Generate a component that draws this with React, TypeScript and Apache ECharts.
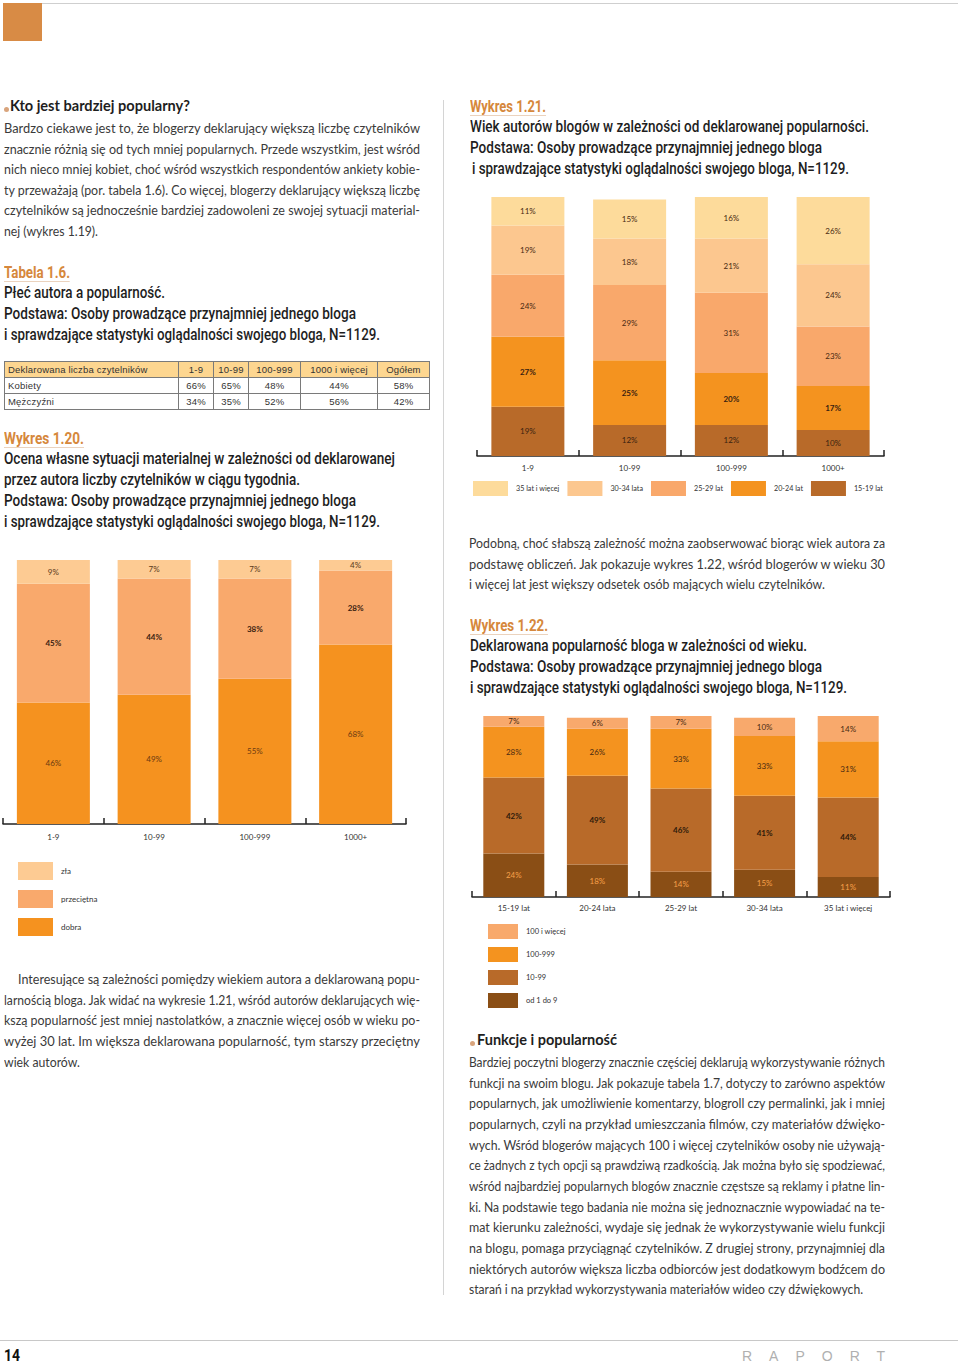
import React, { useEffect, useLayoutEffect, useRef } from "react";
import * as echarts from "echarts";

// ---------- DATA ----------
const tableHeader = ["Deklarowana liczba czytelników", "1-9", "10-99", "100-999", "1000 i więcej", "Ogółem"];
const tableKobiety = ["Kobiety", "66%", "65%", "48%", "44%", "58%"];
const tableMezczyzni = ["Mężczyźni", "34%", "35%", "52%", "56%", "42%"];

const readersCategories = ["1-9", "10-99", "100-999", "1000+"];
const materialDobra = [46, 49, 55, 68];
const materialPrzecietna = [45, 44, 38, 28];
const materialZla = [9, 7, 7, 4];

const age1519 = [19, 12, 12, 10];
const age2024 = [27, 25, 20, 17];
const age2529 = [24, 29, 31, 23];
const age3034 = [19, 18, 21, 24];
const age35plus = [11, 15, 16, 26];

const ageCategories = ["15-19 lat", "20-24 lata", "25-29 lat", "30-34 lata", "35 lat i więcej"];
const pop1to9 = [24, 18, 14, 15, 11];
const pop10to99 = [42, 49, 46, 41, 44];
const pop100to999 = [28, 26, 33, 33, 31];
const pop100plus = [7, 6, 7, 10, 14];

const para1 = [
  "Bardzo ciekawe jest to, że blogerzy deklarujący większą liczbę czytelników",
  "znacznie różnią się od tych mniej popularnych. Przede wszystkim, jest wśród",
  "nich nieco mniej kobiet, choć wśród wszystkich respondentów ankiety kobie-",
  "ty przeważają (por. tabela 1.6). Co więcej, blogerzy deklarujący większą liczbę",
  "czytelników są jednocześnie bardziej zadowoleni ze swojej sytuacji material-",
  "nej (wykres 1.19).",
];
const para2 = [
  "Interesujące są zależności pomiędzy wiekiem autora a deklarowaną popu-",
  "larnością bloga. Jak widać na wykresie 1.21, wśród autorów deklarujących wię-",
  "kszą popularność jest mniej nastolatków, a znacznie więcej osób w wieku po-",
  "wyżej 30 lat. Im większa deklarowana popularność, tym starszy przeciętny",
  "wiek autorów.",
];
const para3 = [
  "Podobną, choć słabszą zależność można zaobserwować biorąc wiek autora za",
  "podstawę obliczeń. Jak pokazuje wykres 1.22, wśród blogerów w wieku 30",
  "i więcej lat jest większy odsetek osób mających wielu czytelników.",
];
const para4 = [
  "Bardziej poczytni blogerzy znacznie częściej deklarują wykorzystywanie różnych",
  "funkcji na swoim blogu. Jak pokazuje tabela 1.7, dotyczy to zarówno aspektów",
  "popularnych, jak umożliwienie komentarzy, blogroll czy permalinki, jak i mniej",
  "popularnych, czyli na przykład umieszczania filmów, czy materiałów dźwięko-",
  "wych. Wśród blogerów mających 100 i więcej czytelników osoby nie używają-",
  "ce żadnych z tych opcji są prawdziwą rzadkością. Jak można było się spodziewać,",
  "wśród najbardziej popularnych blogów znacznie częstsze są reklamy i płatne lin-",
  "ki. Na podstawie tego badania nie można się jednoznacznie wypowiadać na te-",
  "mat kierunku zależności, wydaje się jednak że wykorzystywanie wielu funkcji",
  "na blogu, pomaga przyciągnąć czytelników. Z drugiej strony, przynajmniej dla",
  "niektórych autorów większa liczba odbiorców jest dodatkowym bodźcem do",
  "starań i na przykład wykorzystywania materiałów wideo czy dźwiękowych.",
];

// ---------- STYLES ----------
const BODY_FONT = "Lato, 'Liberation Sans', sans-serif";
const HEAD_FONT = "Roboto, 'Liberation Sans', sans-serif";
const CHART_FONT = "Lato, 'Open Sans', sans-serif";
const bodyStyle: React.CSSProperties = { fontFamily: BODY_FONT, fontSize: 13.5, color: "#3a3a3a" };
const headStyle: React.CSSProperties = {
  fontFamily: HEAD_FONT,
  fontSize: 16,
  fontWeight: 500,
  color: "#1e1e1e",
};
const orangeHead: React.CSSProperties = {
  fontFamily: HEAD_FONT,
  fontSize: 16,
  fontWeight: "bold",
  color: "#D6883C",
  borderBottom: "1px solid #EBD3BE",
  lineHeight: "17px",
};

// ---------- TEXT HELPERS ----------
function Line(props: {
  x: number;
  y: number;
  w?: number;
  fit?: number;
  text: string;
  justify?: boolean;
  style?: React.CSSProperties;
  lh?: number;
}) {
  const { x, y, w, fit, text, justify, style } = props;
  const lh = props.lh ?? 20;
  const ref = useRef<HTMLSpanElement>(null);
  useLayoutEffect(() => {
    const el = ref.current;
    if (!el) return;
    el.style.wordSpacing = "0px";
    el.style.transform = "none";
    const nat = el.getBoundingClientRect().width;
    if (fit) {
      el.style.transform = `scaleX(${fit / nat})`;
    } else if (w) {
      if (nat > w) {
        el.style.transform = `scaleX(${w / nat})`;
      } else if (justify) {
        const n = (text.trim().match(/ /g) || []).length;
        if (n) el.style.wordSpacing = `${(w - nat) / n}px`;
      }
    }
  }, [text, w, fit, justify]);
  return (
    <span
      ref={ref}
      style={{
        position: "absolute",
        left: x,
        top: y - lh / 2,
        lineHeight: `${lh}px`,
        whiteSpace: "pre",
        display: "inline-block",
        transformOrigin: "0 0",
        ...style,
      }}
    >
      {text}
    </span>
  );
}

function Para(props: {
  x: number;
  y: number;
  w: number;
  lines: string[];
  step: number;
  indent?: number;
  lastW: number;
  style?: React.CSSProperties;
}) {
  const { x, y, w, lines, step, indent = 0, style, lastW } = props;
  return (
    <>
      {lines.map((t, i) => {
        const last = i === lines.length - 1;
        const dx = i === 0 ? indent : 0;
        return (
          <Line
            key={i}
            x={x + dx}
            y={y + i * step}
            w={last ? undefined : w - dx}
            fit={last ? lastW : undefined}
            justify={!last}
            text={t}
            style={style || bodyStyle}
          />
        );
      })}
    </>
  );
}

function Bullet({ x, y }: { x: number; y: number }) {
  return (
    <div
      style={{ position: "absolute", left: x, top: y, width: 5, height: 5, borderRadius: 3, background: "#D9A47C" }}
    />
  );
}

// ---------- CHART ----------
type SeriesCfg = { name: string; data: number[]; color: string; labelColor: string; bold?: boolean };

function stackedOption(cfg: {
  categories: string[];
  series: SeriesCfg[];
  grid: any;
  legend: any;
  legendOrder: string[];
  legendFont: number;
  barWidth: number;
  labelMargin: number;
}) {
  return {
    animation: false,
    textStyle: { fontFamily: CHART_FONT },
    grid: { ...cfg.grid, containLabel: false },
    legend: {
      ...cfg.legend,
      padding: 0,
      selectedMode: false,
      icon: "rect",
      data: cfg.legendOrder,
      textStyle: { fontSize: cfg.legendFont, color: "#333", fontFamily: CHART_FONT, padding: [2, 0, 0, 3] },
    },
    xAxis: {
      type: "category",
      data: cfg.categories,
      axisLine: { lineStyle: { color: "#222", width: 1.5 } },
      axisTick: { show: true, inside: true, length: 6, lineStyle: { color: "#222", width: 1.5 } },
      axisLabel: { color: "#333", fontSize: 8, margin: cfg.labelMargin, fontFamily: CHART_FONT },
    },
    yAxis: { type: "value", min: 0, max: 100, show: false },
    series: cfg.series.map((s) => ({
      type: "bar",
      name: s.name,
      stack: "all",
      data: s.data,
      barWidth: cfg.barWidth,
      itemStyle: { color: s.color },
      label: {
        show: true,
        position: "inside",
        formatter: "{c}%",
        fontSize: 8,
        fontFamily: CHART_FONT,
        color: s.labelColor,
        fontWeight: s.bold ? "bold" : "normal",
      },
    })),
  };
}

function Chart({ style, option }: { style: React.CSSProperties; option: any }) {
  const ref = useRef<HTMLDivElement>(null);
  useEffect(() => {
    const chart = echarts.init(ref.current as HTMLDivElement, null, { renderer: "svg" });
    chart.setOption(option);
    return () => chart.dispose();
  }, []);
  return <div ref={ref} style={{ position: "absolute", ...style }} />;
}

const optMaterial = stackedOption({
  categories: readersCategories,
  series: [
    { name: "dobra", data: materialDobra, color: "#F5921F", labelColor: "#6b3a12" },
    { name: "przeciętna", data: materialPrzecietna, color: "#F9A96C", labelColor: "#3a2210", bold: true },
    { name: "zła", data: materialZla, color: "#FDCB93", labelColor: "#5a3a1a" },
  ],
  grid: { left: 3, top: 10, width: 403, height: 264 },
  legend: { orient: "vertical", left: 18, top: 312, itemWidth: 35, itemHeight: 18, itemGap: 10 },
  legendOrder: ["zła", "przeciętna", "dobra"],
  legendFont: 8,
  barWidth: 73,
  labelMargin: 9,
});

const optAge = stackedOption({
  categories: readersCategories,
  series: [
    { name: "15-19 lat", data: age1519, color: "#B86A29", labelColor: "#3a2210" },
    { name: "20-24 lat", data: age2024, color: "#F4931F", labelColor: "#3a2210", bold: true },
    { name: "25-29 lat", data: age2529, color: "#F9A86B", labelColor: "#4a2a12" },
    { name: "30-34 lata", data: age3034, color: "#FCC78F", labelColor: "#4a2a12" },
    { name: "35 lat i więcej", data: age35plus, color: "#FDDB9B", labelColor: "#4a2a12" },
  ],
  grid: { left: 17, top: 7, width: 407, height: 259 },
  legend: { orient: "horizontal", left: 13, top: 291, width: 440, itemWidth: 35, itemHeight: 15, itemGap: 8 },
  legendOrder: ["35 lat i więcej", "30-34 lata", "25-29 lat", "20-24 lat", "15-19 lat"],
  legendFont: 7.2,
  barWidth: 73,
  labelMargin: 8,
});

const optPop = stackedOption({
  categories: ageCategories,
  series: [
    { name: "od 1 do 9", data: pop1to9, color: "#8A4E15", labelColor: "#F7A04A" },
    { name: "10-99", data: pop10to99, color: "#B86A29", labelColor: "#2e1a0a", bold: true },
    { name: "100-999", data: pop100to999, color: "#F4931F", labelColor: "#4a2a12" },
    { name: "100 i więcej", data: pop100plus, color: "#F8A96C", labelColor: "#4a2a12" },
  ],
  grid: { left: 12, top: 11, width: 418, height: 181 },
  legend: { orient: "vertical", left: 28, top: 219, itemWidth: 30, itemHeight: 15, itemGap: 8 },
  legendOrder: ["100 i więcej", "100-999", "10-99", "od 1 do 9"],
  legendFont: 7.5,
  barWidth: 61,
  labelMargin: 7,
});

// ---------- TABLE ----------
const colWidths = [170, 34, 34, 51, 76, 51];
function Table() {
  const cell = (txt: string, i: number, header: boolean) => (
    <td
      key={i}
      style={{
        border: "1px solid #7a7a7a",
        width: colWidths[i],
        height: 15,
        padding: 0,
        paddingLeft: i === 0 ? 3 : 0,
        textAlign: i === 0 ? "left" : "center",
        background: header ? "#FDD690" : "#fff",
        whiteSpace: "nowrap",
      }}
    >
      {txt}
    </td>
  );
  return (
    <table
      style={{
        position: "absolute",
        left: 4,
        top: 361,
        width: 417,
        borderCollapse: "collapse",
        tableLayout: "fixed",
        fontFamily: "'Liberation Sans', Arial, sans-serif",
        fontSize: 9.5,
        letterSpacing: 0.2,
        color: "#333",
      }}
    >
      <tbody>
        <tr>{tableHeader.map((t, i) => cell(t, i, true))}</tr>
        <tr>{tableKobiety.map((t, i) => cell(t, i, false))}</tr>
        <tr>{tableMezczyzni.map((t, i) => cell(t, i, false))}</tr>
      </tbody>
    </table>
  );
}

// ---------- APP ----------
export default function App() {
  return (
    <div
      style={{
        position: "absolute",
        left: 0,
        top: 0,
        width: 960,
        height: 1365,
        overflow: "hidden",
        background: "#fff",
      }}
    >
      {/* top decoration */}
      <div style={{ position: "absolute", left: 3, top: 3, width: 39, height: 38, background: "#D88B45" }} />
      <div style={{ position: "absolute", left: 42, top: 3, width: 916, height: 1, background: "#cfcfcf" }} />
      {/* column divider */}
      <div style={{ position: "absolute", left: 443, top: 100, width: 1, height: 1195, background: "#d4d4d4" }} />

      {/* LEFT COLUMN */}
      <Bullet x={4} y={107} />
      <Line x={10} y={106} fit={180} text="Kto jest bardziej popularny?" style={{ ...bodyStyle, fontWeight: "bold", color: "#1e1e1e", fontSize: 14.5 }} />
      <Para x={4} y={128} w={416} lines={para1} step={20.6} lastW={94} />

      <Line x={4} y={272} fit={66} lh={17} text="Tabela 1.6." style={orangeHead} />
      <Line x={4} y={293} fit={161} text="Płeć autora a popularność." style={headStyle} />
      <Line x={4} y={314} fit={352} text="Podstawa: Osoby prowadzące przynajmniej jednego bloga" style={headStyle} />
      <Line x={4} y={335} fit={376} text="i sprawdzające statystyki oglądalności swojego bloga, N=1129." style={headStyle} />

      <Table />

      <Line x={4} y={438} fit={80} lh={17} text="Wykres 1.20." style={orangeHead} />
      <Line x={4} y={459} fit={391} text="Ocena własne sytuacji materialnej w zależności od deklarowanej" style={headStyle} />
      <Line x={4} y={480} fit={296} text="przez autora liczby czytelników w ciągu tygodnia." style={headStyle} />
      <Line x={4} y={501} fit={352} text="Podstawa: Osoby prowadzące przynajmniej jednego bloga" style={headStyle} />
      <Line x={4} y={522} fit={376} text="i sprawdzające statystyki oglądalności swojego bloga, N=1129." style={headStyle} />

      <Chart style={{ left: 0, top: 550, width: 440, height: 400 }} option={optMaterial} />

      <Para x={4} y={979} w={416} lines={para2} step={20.7} indent={14} lastW={76} />

      {/* RIGHT COLUMN */}
      <Line x={470} y={106} fit={76} lh={17} text="Wykres 1.21." style={orangeHead} />
      <Line x={470} y={127} fit={399} text="Wiek autorów blogów w zależności od deklarowanej popularności." style={headStyle} />
      <Line x={470} y={148} fit={352} text="Podstawa: Osoby prowadzące przynajmniej jednego bloga" style={headStyle} />
      <Line x={472} y={169} fit={377} text="i sprawdzające statystyki oglądalności swojego bloga, N=1129." style={headStyle} />

      <Chart style={{ left: 460, top: 190, width: 470, height: 320 }} option={optAge} />

      <Para x={469} y={543} w={416} lines={para3} step={20.7} lastW={356} />

      <Line x={470} y={625} fit={78} lh={17} text="Wykres 1.22." style={orangeHead} />
      <Line x={470} y={646} fit={337} text="Deklarowana popularność bloga w zależności od wieku." style={headStyle} />
      <Line x={470} y={667} fit={352} text="Podstawa: Osoby prowadzące przynajmniej jednego bloga" style={headStyle} />
      <Line x={470} y={688} fit={377} text="i sprawdzające statystyki oglądalności swojego bloga, N=1129." style={headStyle} />

      <Chart style={{ left: 460, top: 705, width: 440, height: 340 }} option={optPop} />

      <Bullet x={470} y={1041} />
      <Line x={477} y={1040} fit={140} text="Funkcje i popularność" style={{ ...bodyStyle, fontWeight: "bold", color: "#1e1e1e", fontSize: 14.5 }} />
      <Para x={469} y={1062} w={416} lines={para4} step={20.65} lastW={394} />

      {/* FOOTER */}
      <div style={{ position: "absolute", left: 0, top: 1340, width: 958, height: 1, background: "#c8c8c8" }} />
      <Line x={4} y={1356} fit={16} text="14" style={{ fontFamily: HEAD_FONT, fontWeight: "bold", fontSize: 16, color: "#111" }} />
      <Line x={742} y={1356} text="RAPORT" style={{ fontFamily: "'Liberation Sans', sans-serif", fontSize: 14, color: "#b0b0b0", letterSpacing: 17, fontWeight: 300 }} />
    </div>
  );
}
